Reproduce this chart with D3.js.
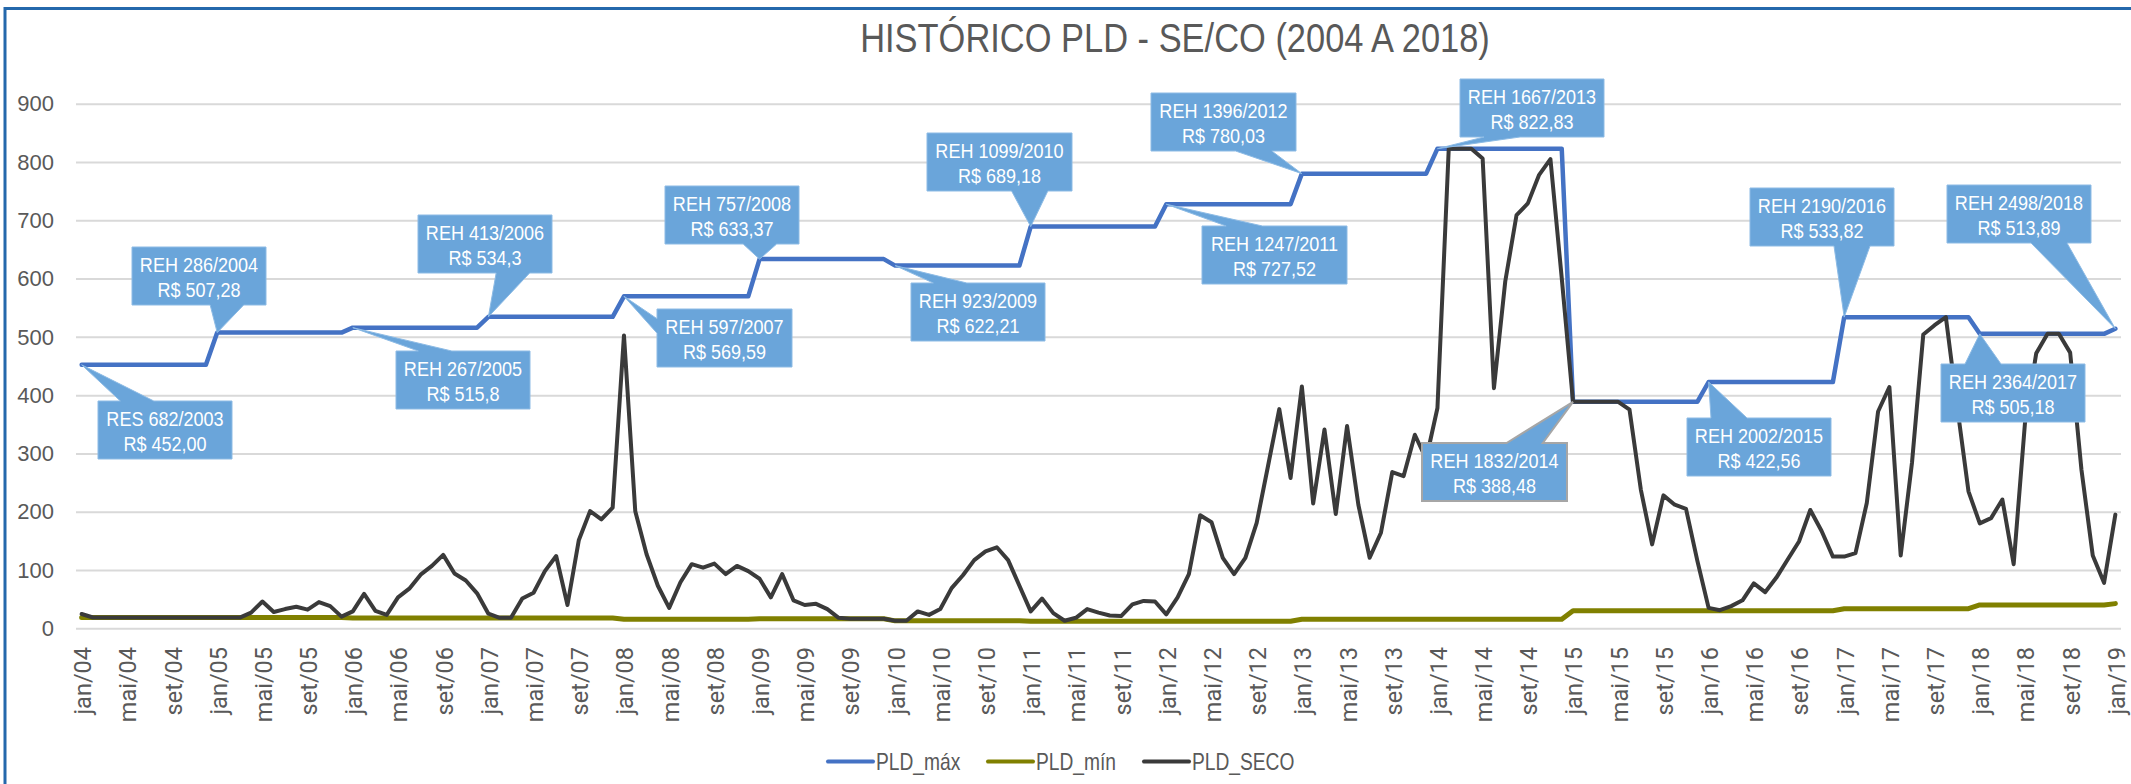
<!DOCTYPE html>
<html>
<head>
<meta charset="utf-8">
<script src="https://cdn.jsdelivr.net/npm/d3@7"></script>
<style>
  body { margin: 0; background: #fff; }
  svg { display: block; }
</style>
</head>
<body>
<div id="chart"></div>
<script>
// categorias (mensal, jan/04 a jan/19)
const meses = ["jan", "fev", "mar", "abr", "mai", "jun", "jul", "ago", "set", "out", "nov", "dez"];
const anos = ["04", "05", "06", "07", "08", "09", "10", "11", "12", "13", "14", "15", "16", "17", "18"];
const categorias = [];
anos.forEach(a => meses.forEach(m => categorias.push(m + "/" + a)));
categorias.push("jan/19");

// PLD_máx (R$/MWh)
const pldMax = [
  452.00, 452.00, 452.00, 452.00, 452.00, 452.00, 452.00, 452.00, 452.00, 452.00, 452.00, 452.00,
  507.28, 507.28, 507.28, 507.28, 507.28, 507.28, 507.28, 507.28, 507.28, 507.28, 507.28, 507.28,
  515.80, 515.80, 515.80, 515.80, 515.80, 515.80, 515.80, 515.80, 515.80, 515.80, 515.80, 515.80,
  534.30, 534.30, 534.30, 534.30, 534.30, 534.30, 534.30, 534.30, 534.30, 534.30, 534.30, 534.30,
  569.59, 569.59, 569.59, 569.59, 569.59, 569.59, 569.59, 569.59, 569.59, 569.59, 569.59, 569.59,
  633.37, 633.37, 633.37, 633.37, 633.37, 633.37, 633.37, 633.37, 633.37, 633.37, 633.37, 633.37,
  622.21, 622.21, 622.21, 622.21, 622.21, 622.21, 622.21, 622.21, 622.21, 622.21, 622.21, 622.21,
  689.18, 689.18, 689.18, 689.18, 689.18, 689.18, 689.18, 689.18, 689.18, 689.18, 689.18, 689.18,
  727.52, 727.52, 727.52, 727.52, 727.52, 727.52, 727.52, 727.52, 727.52, 727.52, 727.52, 727.52,
  780.03, 780.03, 780.03, 780.03, 780.03, 780.03, 780.03, 780.03, 780.03, 780.03, 780.03, 780.03,
  822.83, 822.83, 822.83, 822.83, 822.83, 822.83, 822.83, 822.83, 822.83, 822.83, 822.83, 822.83,
  388.48, 388.48, 388.48, 388.48, 388.48, 388.48, 388.48, 388.48, 388.48, 388.48, 388.48, 388.48,
  422.56, 422.56, 422.56, 422.56, 422.56, 422.56, 422.56, 422.56, 422.56, 422.56, 422.56, 422.56,
  533.82, 533.82, 533.82, 533.82, 533.82, 533.82, 533.82, 533.82, 533.82, 533.82, 533.82, 533.82,
  505.18, 505.18, 505.18, 505.18, 505.18, 505.18, 505.18, 505.18, 505.18, 505.18, 505.18, 505.18,
  513.89
];

// PLD_mín
const pldMin = [
  18.59, 18.59, 18.59, 18.59, 18.59, 18.59, 18.59, 18.59, 18.59, 18.59, 18.59, 18.59,
  18.33, 18.33, 18.33, 18.33, 18.33, 18.33, 18.33, 18.33, 18.33, 18.33, 18.33, 18.33,
  17.59, 17.59, 17.59, 17.59, 17.59, 17.59, 17.59, 17.59, 17.59, 17.59, 17.59, 17.59,
  17.59, 17.59, 17.59, 17.59, 17.59, 17.59, 17.59, 17.59, 17.59, 17.59, 17.59, 17.59,
  15.47, 15.47, 15.47, 15.47, 15.47, 15.47, 15.47, 15.47, 15.47, 15.47, 15.47, 15.47,
  16.31, 16.31, 16.31, 16.31, 16.31, 16.31, 16.31, 16.31, 16.31, 16.31, 16.31, 16.31,
  12.80, 12.80, 12.80, 12.80, 12.80, 12.80, 12.80, 12.80, 12.80, 12.80, 12.80, 12.80,
  12.08, 12.08, 12.08, 12.08, 12.08, 12.08, 12.08, 12.08, 12.08, 12.08, 12.08, 12.08,
  12.20, 12.20, 12.20, 12.20, 12.20, 12.20, 12.20, 12.20, 12.20, 12.20, 12.20, 12.20,
  15.62, 15.62, 15.62, 15.62, 15.62, 15.62, 15.62, 15.62, 15.62, 15.62, 15.62, 15.62,
  15.62, 15.62, 15.62, 15.62, 15.62, 15.62, 15.62, 15.62, 15.62, 15.62, 15.62, 15.62,
  30.26, 30.26, 30.26, 30.26, 30.26, 30.26, 30.26, 30.26, 30.26, 30.26, 30.26, 30.26,
  30.25, 30.25, 30.25, 30.25, 30.25, 30.25, 30.25, 30.25, 30.25, 30.25, 30.25, 30.25,
  33.68, 33.68, 33.68, 33.68, 33.68, 33.68, 33.68, 33.68, 33.68, 33.68, 33.68, 33.68,
  40.16, 40.16, 40.16, 40.16, 40.16, 40.16, 40.16, 40.16, 40.16, 40.16, 40.16, 40.16,
  42.35
];

// PLD_SECO (média mensal)
const pldSeco = [
  24.5, 18.59, 18.59, 18.59, 18.59, 18.59, 18.59, 18.59, 18.59, 18.59, 18.59, 18.59,
  18.33, 18.33, 18.33, 27, 46, 28, 33, 37, 32, 45, 38, 20,
  29, 59, 30, 23, 53, 68, 92, 107, 126, 94, 82, 60,
  25, 18, 18, 51, 61, 98, 124, 40, 151, 201, 187, 207,
  502.45, 201, 127, 73, 35, 79, 110, 104, 111, 93, 107, 98,
  85, 53, 93, 48, 40, 42, 33, 18, 16.31, 16.31, 16.31, 16.31,
  12.80, 12.80, 29, 23, 33, 69, 91, 117, 132, 139, 117, 73,
  29, 51, 26, 13, 18, 33, 27, 22, 21, 41, 47, 46,
  24, 53, 93, 194, 182, 121, 93, 121, 181, 278, 376, 258,
  415, 214, 341, 196, 347, 212, 121, 164, 268, 261, 332, 290,
  378, 822.83, 822.83, 822.83, 806, 412, 595, 709, 729, 778, 805, 601,
  388.48, 388.48, 388.48, 388.48, 388.48, 375, 238, 144, 228, 212, 205, 116,
  35, 31, 38, 48, 77, 62, 87, 118, 149, 203, 167, 123,
  123, 129, 215, 372, 414, 125, 284, 504, 520, 533.82, 381, 235,
  180, 189, 221, 110, 352, 472, 505.18, 505.18, 473, 272, 125, 78,
  195
];

const yTicks = [0, 100, 200, 300, 400, 500, 600, 700, 800, 900];

// textos das resoluções (balões)
const baloesMes = ["jan/04", "jan/05", "jan/06", "jan/07", "jan/08", "jan/09", "jan/10", "jan/11",
                   "jan/12", "jan/13", "jan/14", "jan/15", "jan/16", "jan/17", "jan/18", "jan/19"];
const baloesRes = ["RES 682/2003", "REH 286/2004", "REH 267/2005", "REH 413/2006", "REH 597/2007",
                   "REH 757/2008", "REH 923/2009", "REH 1099/2010", "REH 1247/2011", "REH 1396/2012",
                   "REH 1667/2013", "REH 1832/2014", "REH 2002/2015", "REH 2190/2016", "REH 2364/2017",
                   "REH 2498/2018"];
const baloesValor = ["R$ 452,00", "R$ 507,28", "R$ 515,8", "R$ 534,3", "R$ 569,59", "R$ 633,37",
                     "R$ 622,21", "R$ 689,18", "R$ 727,52", "R$ 780,03", "R$ 822,83", "R$ 388,48",
                     "R$ 422,56", "R$ 533,82", "R$ 505,18", "R$ 513,89"];

// posição dos balões [x, y, largura, altura]
const baloesCaixa = [
  [98, 401, 134, 58], [132, 247, 134, 58], [396, 351, 134, 58], [418, 215, 134, 58],
  [657, 309, 135, 58], [665, 186, 134, 58], [911, 283, 134, 58], [927, 133, 145, 58],
  [1202, 226, 145, 58], [1151, 93, 145, 58], [1460, 79, 144, 58], [1422, 443, 145, 58],
  [1687, 418, 144, 58], [1750, 188, 144, 58], [1941, 364, 144, 58], [1947, 185, 144, 58]
];

const W = 2131, H = 784;
const fonte = "'Liberation Sans', Arial, sans-serif";
const cinza = "#595959";

const svg = d3.select("#chart").append("svg")
  .attr("width", W)
  .attr("height", H);

// texto "estreito": Liberation Sans comprimida na horizontal
function textoEstreito(g, tx, ty, txt, tam, sx, ancora, cor) {
  return g.append("text")
    .attr("transform", `translate(${tx},${ty}) scale(${sx},1)`)
    .attr("text-anchor", ancora)
    .style("font-family", fonte)
    .style("font-size", tam + "px")
    .style("fill", cor)
    .text(txt);
}

// borda do gráfico
svg.append("rect")
  .attr("x", 5).attr("y", 8.5)
  .attr("width", W + 20).attr("height", H + 20)
  .attr("fill", "#fff")
  .attr("stroke", "#2468ac")
  .attr("stroke-width", 3);

// escalas
const x = d3.scalePoint().domain(d3.range(categorias.length)).range([76, 2121]).padding(0.5);
const y = d3.scaleLinear().domain([0, 900]).range([628.3, 103.7]);

// grade
svg.append("g")
  .attr("transform", "translate(76,0)")
  .call(d3.axisLeft(y).tickValues(yTicks).tickSize(-2045).tickFormat(""))
  .call(g => g.select(".domain").remove())
  .selectAll("line")
  .attr("stroke", "#d9d9d9")
  .attr("stroke-width", 2);

// rótulos eixo Y
svg.append("g")
  .selectAll("text")
  .data(yTicks)
  .enter()
  .append("text")
  .attr("x", 54)
  .attr("y", d => y(d))
  .attr("dy", "0.35em")
  .attr("text-anchor", "end")
  .style("font-family", fonte)
  .style("font-size", "22px")
  .style("fill", cinza)
  .text(d => d);

// rótulos eixo X (a cada 4 meses, girados)
svg.append("g")
  .selectAll("text")
  .data(categorias.filter((c, i) => i % 4 === 0))
  .enter()
  .append("text")
  .attr("transform", d => `translate(${x(categorias.indexOf(d)) + 1},647) rotate(-90)`)
  .attr("dy", "0.36em")
  .attr("text-anchor", "end")
  .style("font-family", "Roboto, sans-serif")
  .style("font-size", "23.5px")
  .style("fill", cinza)
  .text(d => d);

// séries
const series = [
  { nome: "PLD_máx", valores: pldMax, cor: "#4472c4", largura: 4.5 },
  { nome: "PLD_mín", valores: pldMin, cor: "#808000", largura: 5 },
  { nome: "PLD_SECO", valores: pldSeco, cor: "#3a3a3a", largura: 4 }
];

const linha = d3.line()
  .x((d, i) => x(i))
  .y(d => y(d));

series.forEach(s => {
  svg.append("path")
    .datum(s.valores)
    .attr("d", linha)
    .attr("fill", "none")
    .attr("stroke", s.cor)
    .attr("stroke-width", s.largura)
    .attr("stroke-linejoin", "round")
    .attr("stroke-linecap", "round");
});

// balões (callout retangular com ponta)
function balao(cx, cy, w, h, tx, ty) {
  const dx = (tx - (cx + w / 2)) / w;
  const dy = (ty - (cy + h / 2)) / h;
  let p;
  if (Math.abs(dy) >= Math.abs(dx)) {
    const b1 = cx + w * (dx > 0 ? 7 : 2) / 12, b2 = cx + w * (dx > 0 ? 10 : 5) / 12;
    if (dy < 0) {
      p = [[cx, cy], [b1, cy], [tx, ty], [b2, cy], [cx + w, cy], [cx + w, cy + h], [cx, cy + h]];
    } else {
      p = [[cx, cy], [cx + w, cy], [cx + w, cy + h], [b2, cy + h], [tx, ty], [b1, cy + h], [cx, cy + h]];
    }
  } else {
    const b1 = cy + h * (dy > 0 ? 7 : 2) / 12, b2 = cy + h * (dy > 0 ? 10 : 5) / 12;
    if (dx < 0) {
      p = [[cx, cy], [cx + w, cy], [cx + w, cy + h], [cx, cy + h], [cx, b2], [tx, ty], [cx, b1]];
    } else {
      p = [[cx, cy], [cx + w, cy], [cx + w, b1], [tx, ty], [cx + w, b2], [cx + w, cy + h], [cx, cy + h]];
    }
  }
  return "M" + p.map(q => q.join(",")).join("L") + "Z";
}

const gBaloes = svg.append("g");
baloesMes.forEach((mes, k) => {
  const i = categorias.indexOf(mes);
  const [bx, by, bw, bh] = baloesCaixa[k];
  const tx = x(i), ty = y(pldMax[i]);
  gBaloes.append("path")
    .attr("d", balao(bx, by, bw, bh, tx, ty))
    .attr("fill", "#6aa5da")
    .attr("stroke", k === 11 ? "#a6a6a6" : "#8dbbe5")
    .attr("stroke-width", k === 11 ? 2 : 1);
  textoEstreito(gBaloes, bx + bw / 2, by + 25, baloesRes[k], 20.5, 0.88, "middle", "#fff");
  textoEstreito(gBaloes, bx + bw / 2, by + 50, baloesValor[k], 20.5, 0.88, "middle", "#fff");
});

// título
textoEstreito(svg, 1175, 52, "HISTÓRICO PLD - SE/CO (2004 A 2018)", 41, 0.84, "middle", cinza);

// legenda
const legendaX = [828, 988, 1144];
const gLeg = svg.append("g");
series.forEach((s, k) => {
  gLeg.append("line")
    .attr("x1", legendaX[k]).attr("x2", legendaX[k] + 45)
    .attr("y1", 761.5).attr("y2", 761.5)
    .attr("stroke", s.cor)
    .attr("stroke-width", 4)
    .attr("stroke-linecap", "round");
  textoEstreito(gLeg, legendaX[k] + 48, 770, s.nome, 24, 0.8, "start", cinza);
});
</script>
</body>
</html>
